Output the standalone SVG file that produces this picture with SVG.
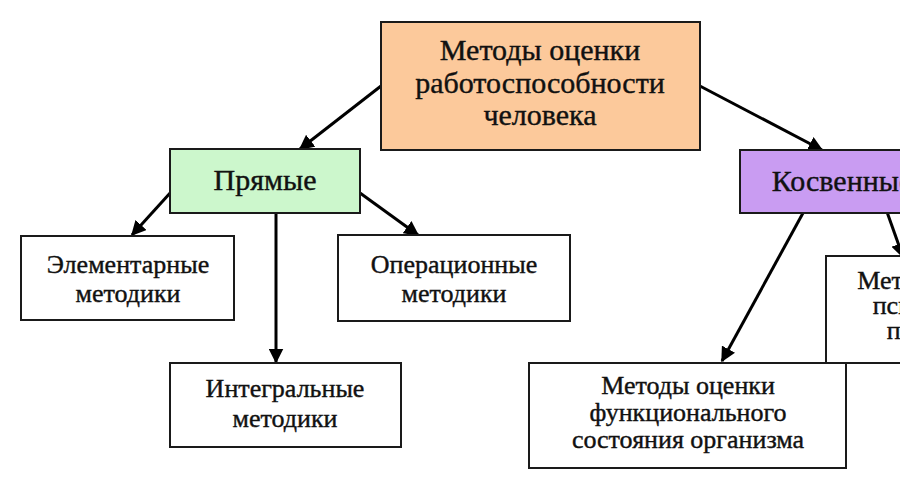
<svg xmlns="http://www.w3.org/2000/svg" width="900" height="500" viewBox="0 0 900 500">
<defs>
<marker id="ah" viewBox="0 0 10 10" refX="9" refY="5" markerWidth="5" markerHeight="5" markerUnits="strokeWidth" orient="auto">
<path d="M0,0 L10,5 L0,10 z" fill="#000"/>
</marker>
<style>
.box{stroke:#1a1a1a;stroke-width:2;}
.w{fill:#fff;}
.t{font-family:"Liberation Serif","Times New Roman",serif;fill:#111;stroke:#111;stroke-width:0.4;text-anchor:middle;}
.big{font-size:30px;}
.mid{font-size:26px;}
.c{stroke:#000;stroke-width:3;fill:none;marker-end:url(#ah);}
</style>
</defs>
<rect width="900" height="500" fill="#fff"/>
<g id="connectors">
<line class="c" x1="381" y1="86" x2="300" y2="149"/>
<line class="c" x1="698" y1="85" x2="822" y2="150"/>
<line class="c" x1="171" y1="192" x2="132" y2="235"/>
<line class="c" x1="360" y1="193" x2="418" y2="235"/>
<line class="c" x1="276" y1="213" x2="276" y2="362"/>
<line class="c" x1="803" y1="213" x2="722" y2="361"/>
<line class="c" x1="887" y1="212" x2="903" y2="257"/>
</g>
<g id="root">
<rect class="box" x="381" y="22" width="319" height="128" fill="#fcc99b"/>
<text class="t big" x="540" y="60">Методы оценки</text>
<text class="t big" x="540" y="93">работоспособности</text>
<text class="t big" x="540" y="125">человека</text>
</g>
<g id="direct">
<rect class="box" x="170" y="149" width="190" height="64" fill="#ccf7cc"/>
<text class="t big" x="265" y="190">Прямые</text>
</g>
<g id="indirect">
<rect class="box" x="740" y="150" width="200" height="63" fill="#c99cf2"/>
<text class="t big" x="842" y="191">Косвенные</text>
</g>
<g id="elementary">
<rect class="box w" x="21" y="236" width="213" height="84"/>
<text class="t mid" x="128" y="273">Элементарные</text>
<text class="t mid" x="128" y="302">методики</text>
</g>
<g id="operational">
<rect class="box w" x="338" y="235" width="232" height="86"/>
<text class="t mid" x="454" y="273">Операционные</text>
<text class="t mid" x="454" y="302">методики</text>
</g>
<g id="integral">
<rect class="box w" x="170" y="363" width="231" height="84"/>
<text class="t mid" x="285" y="397">Интегральные</text>
<text class="t mid" x="285" y="427">методики</text>
</g>
<g id="psych">
<rect class="box w" x="826" y="256" width="240" height="107"/>
<text class="t mid" x="944" y="289">Методы оценки</text>
<text class="t mid" x="944" y="314">психических</text>
<text class="t mid" x="944" y="339">процессов</text>
</g>
<g id="functional">
<rect class="box w" x="529" y="363" width="317" height="105"/>
<text class="t mid" x="688" y="394">Методы оценки</text>
<text class="t mid" x="688" y="421">функционального</text>
<text class="t mid" x="688" y="448">состояния организма</text>
</g>
</svg>
